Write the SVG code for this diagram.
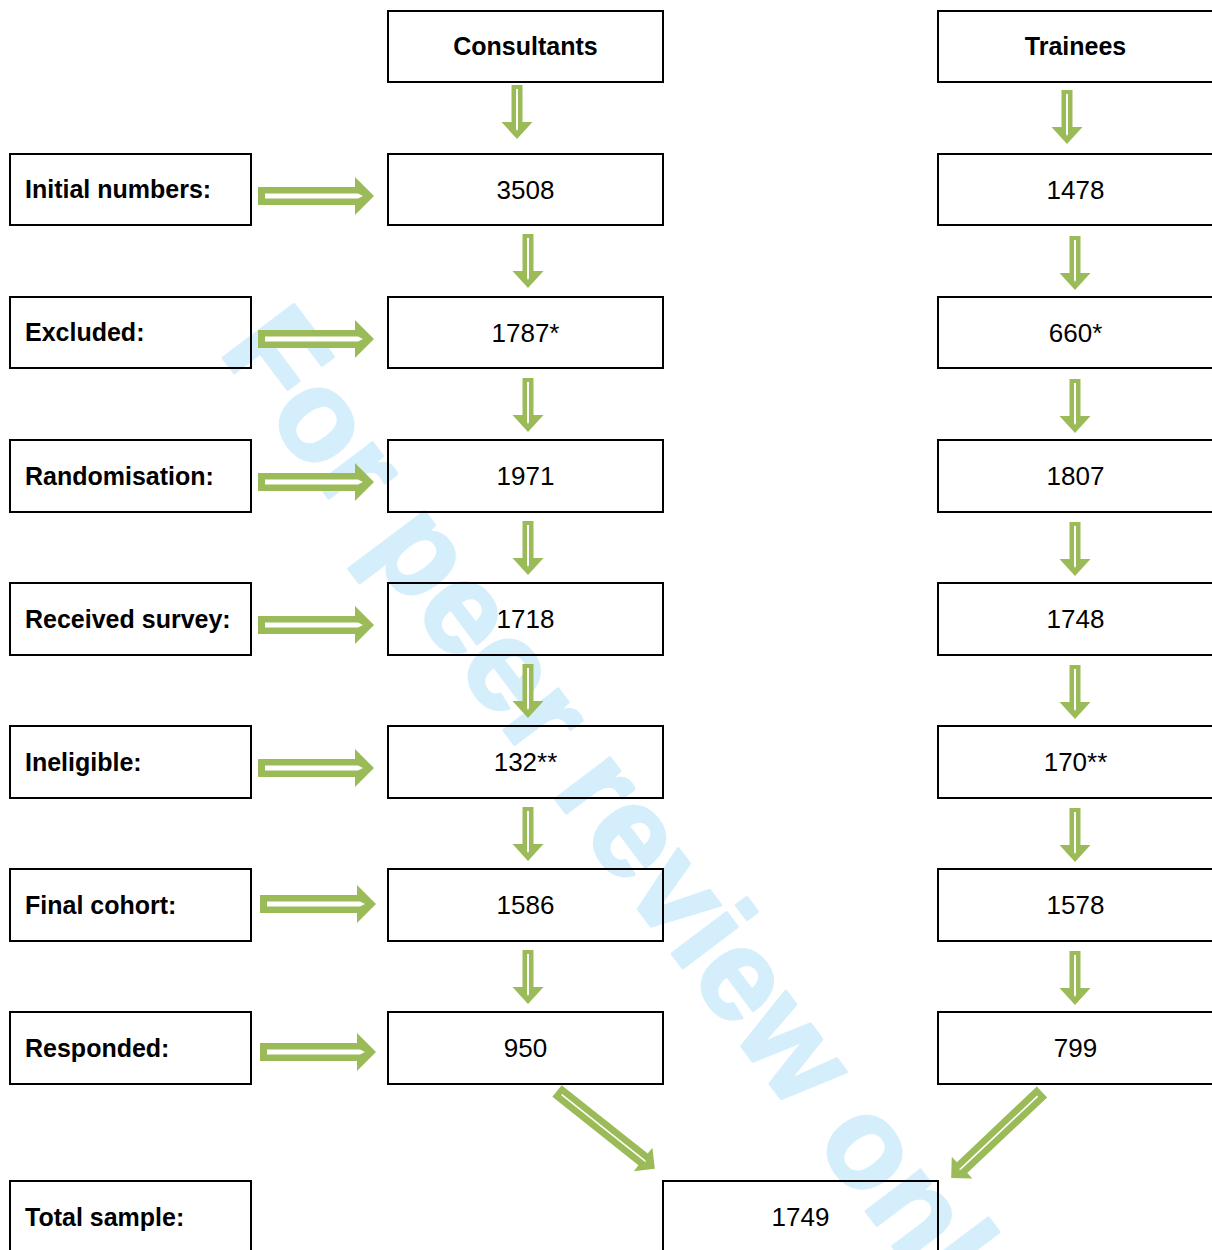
<svg xmlns="http://www.w3.org/2000/svg" xmlns:xlink="http://www.w3.org/1999/xlink" width="1212" height="1250" viewBox="0 0 1212 1250">
<style>
.box{fill:none;stroke:#000;stroke-width:2}
.lbl{font-family:"Liberation Sans",Arial,sans-serif;font-size:25px;font-weight:bold;fill:#000}
.num{font-family:"Liberation Sans",Arial,sans-serif;font-size:26px;fill:#000;text-anchor:middle}
.hdr{font-family:"Liberation Sans",Arial,sans-serif;font-size:25px;font-weight:bold;fill:#000;text-anchor:middle}
.wm{font-family:"Liberation Sans",Arial,sans-serif;font-size:129px;font-weight:bold;fill:#d5eefb;stroke:#d5eefb;stroke-width:3;stroke-linejoin:round}
.g{fill:#9bbb59}
.w{fill:#fff}
</style>
<defs>
<g id="down">
<path class="g" d="M-5.5,0 H5.5 V37 H15.5 L0,54 L-15.5,37 H-5.5 Z"/>
<path class="w" d="M-1,4 H1 V44 L0,46 L-1,44 Z"/>
</g>
<g id="right">
<path class="g" d="M0,-9 H97 V-19 L116,0 L97,19 V9 H0 Z"/>
<path class="w" d="M7,-2.5 H100 L105,0 L100,2.5 H7 Z"/>
</g>
<g id="diag">
<path class="g" d="M0,-7.5 H110 V-15 L125,0 L110,15 V7.5 H0 Z"/>
<path class="w" d="M6,-0.8 H112 L114,0 L112,0.8 H6 Z"/>
</g>
</defs>
<rect width="1212" height="1250" fill="#fff"/>
<text class="wm" transform="translate(218,351) rotate(53)">For peer review only</text>

<g id="connectors">
<use xlink:href="#down" x="517" y="85"/>
<use xlink:href="#down" x="528" y="234"/>
<use xlink:href="#down" x="528" y="378"/>
<use xlink:href="#down" x="528" y="521"/>
<use xlink:href="#down" x="528" y="664"/>
<use xlink:href="#down" x="528" y="807"/>
<use xlink:href="#down" x="528" y="950"/>
<use xlink:href="#down" x="1067" y="90"/>
<use xlink:href="#down" x="1075" y="236"/>
<use xlink:href="#down" x="1075" y="379"/>
<use xlink:href="#down" x="1075" y="522"/>
<use xlink:href="#down" x="1075" y="665"/>
<use xlink:href="#down" x="1075" y="808"/>
<use xlink:href="#down" x="1075" y="951"/>
<use xlink:href="#right" x="258" y="196"/>
<use xlink:href="#right" x="258" y="339"/>
<use xlink:href="#right" x="258" y="482"/>
<use xlink:href="#right" x="258" y="625"/>
<use xlink:href="#right" x="258" y="768"/>
<use xlink:href="#right" x="260" y="904"/>
<use xlink:href="#right" x="260" y="1052"/>
<use xlink:href="#diag" transform="translate(557,1091) rotate(38.5)"/>
<use xlink:href="#diag" transform="translate(1042,1092) rotate(136.6)"/>
</g>

<g id="hdr-consultants"><rect class="box" x="388" y="11" width="275" height="71"/><text class="hdr" x="525.5" y="55">Consultants</text></g>
<g id="hdr-trainees"><rect class="box" x="938" y="11" width="280" height="71"/><text class="hdr" x="1075.5" y="55">Trainees</text></g>

<g id="lbl-initial"><rect class="box" x="10" y="154" width="241" height="71"/><text class="lbl" x="25" y="198">Initial numbers:</text></g>
<g id="lbl-excluded"><rect class="box" x="10" y="297" width="241" height="71"/><text class="lbl" x="25" y="341">Excluded:</text></g>
<g id="lbl-random"><rect class="box" x="10" y="440" width="241" height="72"/><text class="lbl" x="25" y="485">Randomisation:</text></g>
<g id="lbl-received"><rect class="box" x="10" y="583" width="241" height="72"/><text class="lbl" x="25" y="628">Received survey:</text></g>
<g id="lbl-ineligible"><rect class="box" x="10" y="726" width="241" height="72"/><text class="lbl" x="25" y="771">Ineligible:</text></g>
<g id="lbl-final"><rect class="box" x="10" y="869" width="241" height="72"/><text class="lbl" x="25" y="914">Final cohort:</text></g>
<g id="lbl-responded"><rect class="box" x="10" y="1012" width="241" height="72"/><text class="lbl" x="25" y="1057">Responded:</text></g>
<g id="lbl-total"><rect class="box" x="10" y="1181" width="241" height="80"/><text class="lbl" x="25" y="1226">Total sample:</text></g>

<g id="c-initial"><rect class="box" x="388" y="154" width="275" height="71"/><text class="num" x="525.5" y="199">3508</text></g>
<g id="c-excluded"><rect class="box" x="388" y="297" width="275" height="71"/><text class="num" x="525.5" y="342">1787*</text></g>
<g id="c-random"><rect class="box" x="388" y="440" width="275" height="72"/><text class="num" x="525.5" y="485">1971</text></g>
<g id="c-received"><rect class="box" x="388" y="583" width="275" height="72"/><text class="num" x="525.5" y="628">1718</text></g>
<g id="c-ineligible"><rect class="box" x="388" y="726" width="275" height="72"/><text class="num" x="525.5" y="771">132**</text></g>
<g id="c-final"><rect class="box" x="388" y="869" width="275" height="72"/><text class="num" x="525.5" y="914">1586</text></g>
<g id="c-responded"><rect class="box" x="388" y="1012" width="275" height="72"/><text class="num" x="525.5" y="1057">950</text></g>

<g id="t-initial"><rect class="box" x="938" y="154" width="280" height="71"/><text class="num" x="1075.5" y="199">1478</text></g>
<g id="t-excluded"><rect class="box" x="938" y="297" width="280" height="71"/><text class="num" x="1075.5" y="342">660*</text></g>
<g id="t-random"><rect class="box" x="938" y="440" width="280" height="72"/><text class="num" x="1075.5" y="485">1807</text></g>
<g id="t-received"><rect class="box" x="938" y="583" width="280" height="72"/><text class="num" x="1075.5" y="628">1748</text></g>
<g id="t-ineligible"><rect class="box" x="938" y="726" width="280" height="72"/><text class="num" x="1075.5" y="771">170**</text></g>
<g id="t-final"><rect class="box" x="938" y="869" width="280" height="72"/><text class="num" x="1075.5" y="914">1578</text></g>
<g id="t-responded"><rect class="box" x="938" y="1012" width="280" height="72"/><text class="num" x="1075.5" y="1057">799</text></g>

<g id="total"><rect class="box" x="663" y="1181" width="275" height="80"/><text class="num" x="800.5" y="1226">1749</text></g>
</svg>
